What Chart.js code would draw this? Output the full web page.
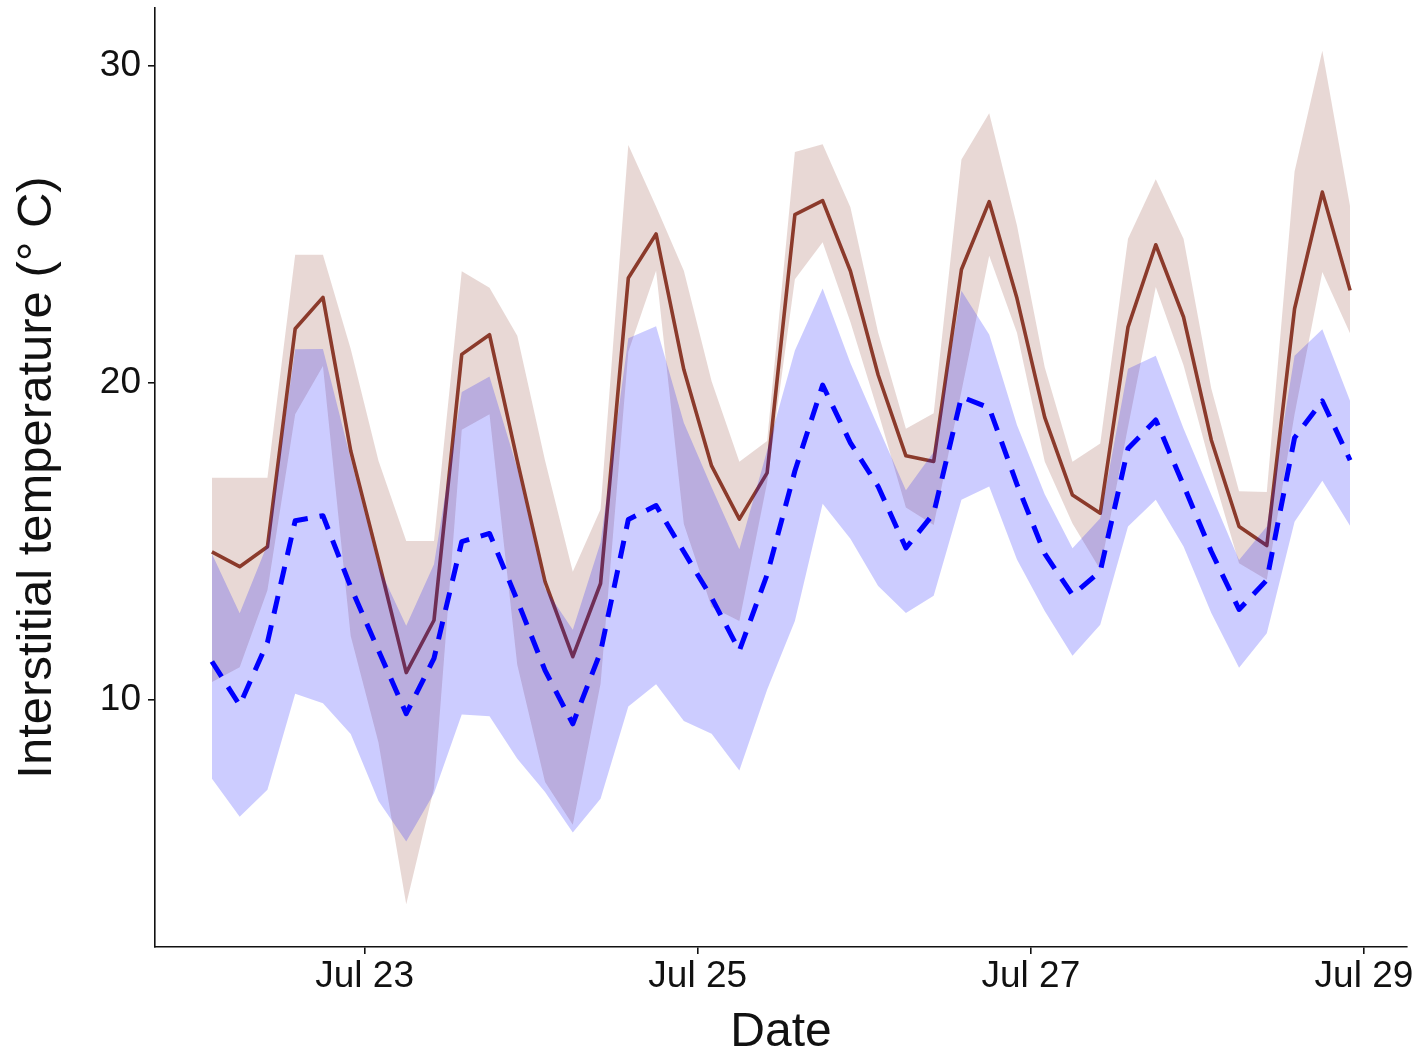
<!DOCTYPE html>
<html>
<head>
<meta charset="utf-8">
<title>Interstitial temperature</title>
<script src="https://cdn.jsdelivr.net/npm/chart.js@4.4.1/dist/chart.umd.min.js"></script>
<style>
  html, body { margin: 0; padding: 0; background: #fff; }
  #wrap { width: 1425px; height: 1063px; }
</style>
</head>
<body>
<div id="wrap"><canvas id="chart" width="1425" height="1063"></canvas></div>
<script>
// Hours since Jul 22 00:00, one reading every 4 h (02:00 ... Jul 28 22:00)
const hours = [2, 6, 10, 14, 18, 22, 26, 30, 34, 38, 42, 46, 50, 54, 58, 62, 66, 70, 74, 78, 82,
    86, 90, 94, 98, 102, 106, 110, 114, 118, 122, 126, 130, 134, 138, 142, 146, 150, 154, 158, 162, 166];

// brown series: mean line and ribbon (max / min)
const brownMean = [14.66, 14.19, 14.82, 21.70, 22.69, 17.85, 14.4, 10.85, 12.5, 20.89, 21.51, 17.54, 13.72, 11.35,
    13.66, 23.30, 24.69, 20.41, 17.37, 15.69, 17.15, 25.30, 25.74, 23.52, 20.24, 17.69, 17.51, 23.57,
    25.71, 22.66, 18.90, 16.45, 15.88, 21.75, 24.35, 22.07, 18.19, 15.46, 14.86, 22.33, 26.01, 22.91];
const brownHigh = [17.0, 17.0, 17.0, 24.03, 24.03, 21.06, 17.53, 15.0, 15.0, 23.51, 22.99, 21.48, 17.54, 14.03,
    16.0, 27.5, 25.56, 23.53, 20.04, 17.5, 18.16, 27.28, 27.52, 25.53, 21.57, 18.54, 19.03, 27.04,
    28.5, 24.96, 20.48, 17.5, 18.08, 24.54, 26.42, 24.54, 19.81, 16.57, 16.55, 26.66, 30.47, 25.56];
const brownLow = [10.55, 11.02, 13.45, 19.0, 20.52, 12.0, 8.64, 3.54, 7.2, 18.51, 19.0, 11.1, 7.4, 6.05,
    10.5, 20.97, 23.53, 15.54, 12.92, 12.48, 16.85, 23.26, 24.43, 21.91, 19.07, 16.06, 15.51, 19.73,
    24.0, 21.57, 17.51, 15.55, 14.1, 18.6, 23.02, 20.55, 17.29, 14.3, 13.78, 19.0, 23.49, 21.55];

// blue series: mean line (dashed) and ribbon
const blueMean = [11.2, 9.82, 11.8, 15.64, 15.8, 13.55, 11.55, 9.55, 11.3, 14.98, 15.24, 13.13, 10.92, 9.23,
    11.5, 15.68, 16.12, 14.66, 13.21, 11.54, 13.94, 17.21, 19.92, 18.1, 16.72, 14.78, 15.87, 19.55,
    19.2, 16.79, 14.6, 13.3, 14.04, 17.92, 18.82, 16.76, 14.67, 12.84, 13.77, 18.26, 19.42, 17.55];
const blueHigh = [14.6, 12.72, 14.9, 21.05, 21.06, 17.6, 14.2, 12.33, 14.27, 19.7, 20.19, 17.3, 13.5, 12.2,
    14.95, 21.4, 21.78, 18.73, 16.70, 14.74, 17.86, 21.01, 22.97, 20.62, 18.6, 16.6, 17.81, 22.9,
    21.52, 18.66, 16.48, 14.77, 15.72, 20.44, 20.85, 18.55, 16.46, 14.4, 15.46, 20.85, 21.68, 19.42];
const blueLow = [7.5, 6.3, 7.15, 10.18, 9.88, 8.91, 6.8, 5.52, 7.04, 9.53, 9.47, 8.13, 7.08, 5.8,
    6.87, 9.78, 10.48, 9.32, 8.92, 7.76, 10.31, 12.48, 16.18, 15.07, 13.58, 12.73, 13.27, 16.3,
    16.72, 14.42, 12.79, 11.38, 12.36, 15.46, 16.3, 14.83, 12.73, 11.0, 12.09, 15.61, 16.9, 15.48];

// axis ticks
const xTickHours = [24, 72, 120, 168];
const xTickLabels = ['Jul 23', 'Jul 25', 'Jul 27', 'Jul 29'];
const yTicks = [10, 20, 30];

const BROWN = 'rgb(139, 58, 43)';
const BROWN_FILL = 'rgba(139, 58, 43, 0.2)';
const BLUE = 'rgb(0, 0, 255)';
const BLUE_FILL = 'rgba(0, 0, 255, 0.2)';
const INK = '#111';
const FONT = "'Liberation Sans', Arial, sans-serif";

const pts = (ys) => ys.map((y, i) => ({ x: hours[i], y }));

// ribbon edge: no stroke, optionally filled down to another dataset index
const edge = (data, fill, color, order) => ({
    data: pts(data),
    fill,
    backgroundColor: color,
    borderColor: 'transparent',
    borderWidth: 0,
    pointRadius: 0,
    order,
});

// lower `order` is drawn on top: brown ribbon < brown line < blue ribbon < blue line
const datasets = [
    edge(brownLow, false, 'transparent', 5),       // 0
    edge(brownHigh, 0, BROWN_FILL, 4),             // 1 -> fill to 0
    {
        data: pts(brownMean), borderColor: BROWN, borderWidth: 3.6,
        pointRadius: 0, fill: false, borderJoinStyle: 'round', order: 3,
    },
    edge(blueLow, false, 'transparent', 2),        // 3
    edge(blueHigh, 3, BLUE_FILL, 1),               // 4 -> fill to 3
    {
        data: pts(blueMean), borderColor: BLUE, borderWidth: 5,
        borderDash: [18, 12], borderCapStyle: 'butt', borderJoinStyle: 'round',
        pointRadius: 0, fill: false, order: 0,
    },
];

// pin plot area to the reference: left 155, right 1407, top 8, bottom 947
const fixY = (scale) => {
    scale.width = 155;
    scale.paddingTop = 0;
    scale.paddingBottom = 0;
};
const fixX = (scale) => {
    scale.height = 116;
    scale.paddingLeft = 0;
    scale.paddingRight = 0;
};

new Chart(document.getElementById('chart'), {
    type: 'line',
    data: { datasets },
    options: {
        responsive: false,
        animation: false,
        events: [],
        devicePixelRatio: 1,
        layout: { padding: { top: 8, right: 18, left: 0, bottom: 0 } },
        plugins: {
            legend: { display: false },
            tooltip: { enabled: false },
        },
        elements: { line: { tension: 0 } },
        scales: {
            x: {
                type: 'linear',
                min: -6.2,
                max: 174.2,
                afterBuildTicks: (scale) => { scale.ticks = xTickHours.map((value) => ({ value })); },
                afterFit: fixX,
                grid: {
                    drawOnChartArea: false, drawTicks: true, tickLength: 7,
                    color: INK, lineWidth: 1.6,
                },
                border: { display: true, color: INK, width: 1.6 },
                ticks: {
                    autoSkip: false, maxRotation: 0, padding: 1,
                    color: INK, font: { family: FONT, size: 37 },
                    callback: (value, index) => xTickLabels[index],
                },
                title: {
                    display: true, text: 'Date', color: INK,
                    font: { family: FONT, size: 48 },
                    padding: { top: 0, bottom: 1 },
                },
            },
            y: {
                type: 'linear',
                min: 2.19,
                max: 31.82,
                afterBuildTicks: (scale) => { scale.ticks = yTicks.map((value) => ({ value })); },
                afterFit: fixY,
                grid: {
                    drawOnChartArea: false, drawTicks: true, tickLength: 7,
                    color: INK, lineWidth: 1.6,
                },
                border: { display: true, color: INK, width: 1.6 },
                ticks: {
                    padding: 7, color: INK, font: { family: FONT, size: 37 },
                    callback: (value) => String(value),
                },
                title: {
                    display: true, text: 'Interstitial temperature (° C)', color: INK,
                    font: { family: FONT, size: 49 },
                    padding: { top: 8, bottom: 0 },
                },
            },
        },
    },
});
</script>
</body>
</html>
